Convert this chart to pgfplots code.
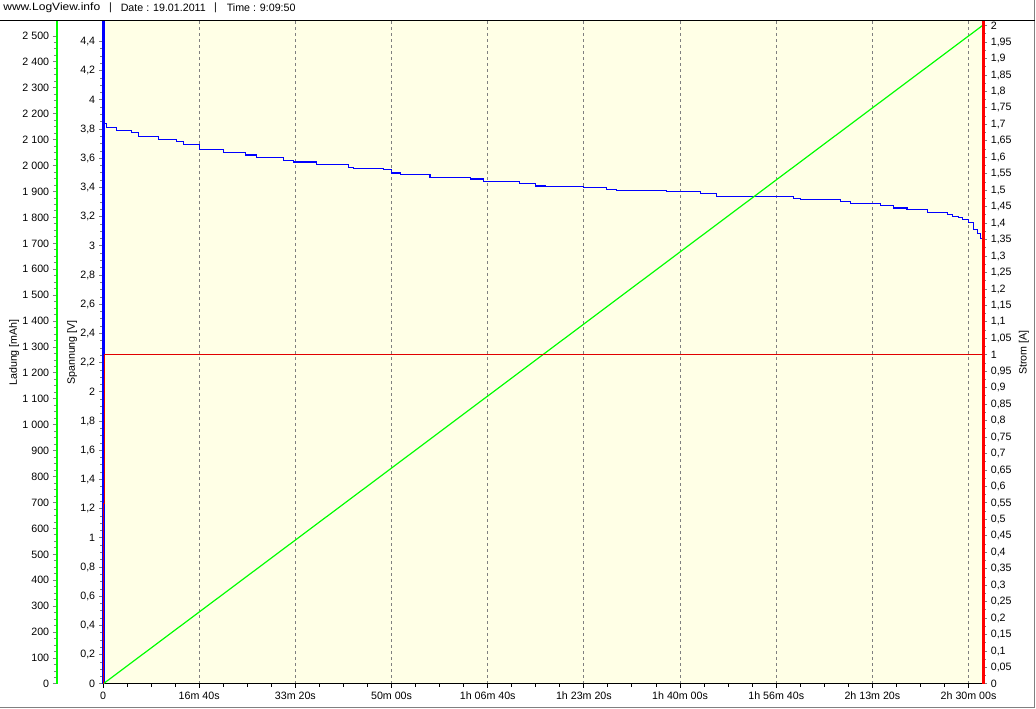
\documentclass[border=0pt]{standalone}
\usepackage{fontspec}
\setmainfont{Liberation Sans}
\usepackage{pgfplots}
\pgfplotsset{compat=1.18}

\definecolor{plotbg}{RGB}{255,255,230}
\definecolor{tickgray}{RGB}{128,128,128}
\definecolor{lvgreen}{RGB}{0,255,0}
\definecolor{lvblue}{RGB}{0,0,255}
\definecolor{lvred}{RGB}{255,0,0}
\definecolor{lvdarkred}{RGB}{225,0,0}

% shared geometry: plot area 880 x 663 px, 1 px = 0.75pt
\pgfplotsset{
  lvbase/.style={
    at={(77.25pt,18.75pt)}, anchor=south west,
    scale only axis, width=660pt, height=497.25pt,
    xmin=0, xmax=9150,
    tick align=outside,
    major tick length=3pt, minor tick length=2.25pt,
    ytick style={tickgray, line width=0.75pt},
    /pgf/number format/fixed,
    /pgf/number format/precision=2,
    /pgf/number format/use comma,
    /pgf/number format/1000 sep={~},
    /pgf/number format/assume math mode=true,
  }
}

\begin{document}
\fontsize{8}{9.6}\selectfont
\begin{tikzpicture}
\begin{scope}[x=0.75pt,y=0.75pt]
  \path[use as bounding box] (0,0) rectangle (1036,709);
  \draw[gray, line width=0.75pt] (0,1.5) -- (1034.5,1.5) -- (1034.5,709);
  \draw[black, line width=0.75pt] (0,688.5) -- (1034.5,688.5);
  \node[inner sep=0, anchor=west, xscale=1.13, transform shape] at (3,701) {www.LogView.info};
  \node[inner sep=0] at (110.5,701) {|};
  \node[inner sep=0, anchor=west] at (120.5,701) {Date : 19.01.2011};
  \node[inner sep=0] at (215.5,701) {|};
  \node[inner sep=0, anchor=west] at (226.5,701) {Time : 9:09:50};
\end{scope}

% Spannung [V] (blue) with time axis
\begin{axis}[lvbase,
  ymin=0, ymax=4.541,
  axis background/.style={fill=plotbg},
  axis x line*=bottom, axis y line*=left,
  x axis line style={black, line width=0.75pt, -},
  y axis line style={lvblue, line width=2.25pt, -},
  xtick style={black, line width=0.75pt},
  xtick={0,1000,...,9000},
  xticklabels={0,16m 40s,33m 20s,50m 00s,1h 06m 40s,1h 23m 20s,1h 40m 00s,1h 56m 40s,2h 13m 20s,2h 30m 00s},
  minor x tick num=3,
  xmajorgrids,
  grid style={tickgray, line width=0.75pt, dash pattern=on 2.25pt off 2.25pt},
  ytick={0,0.2,...,4.41},
  minor y tick num=3,
  ylabel={Spannung [V]},
  ylabel shift={-3pt},
]
\addplot[lvblue, line width=0.8pt, const plot] coordinates {
(0,4.20) (3,4.03) (20,3.84) (38,3.813) (142,3.790) (298,3.776) (367,3.753)
(576,3.728) (766,3.717) (835,3.692) (1002,3.664) (1165,3.660) (1252,3.639)
(1477,3.623) (1599,3.605) (1880,3.584) (1980,3.575) (2220,3.555) (2552,3.539)
(2604,3.530) (2916,3.521) (3000,3.500) (3089,3.491) (3400,3.471) (3817,3.459)
(3960,3.440) (4330,3.427) (4500,3.411) (4600,3.406) (4996,3.399) (5239,3.390)
(5343,3.379) (5863,3.370) (6210,3.361) (6383,3.342) (6972,3.338) (7180,3.327)
(7250,3.317) (7666,3.303) (7770,3.288) (8082,3.279) (8220,3.260) (8360,3.251)
(8568,3.231) (8776,3.217) (8828,3.205) (8897,3.195) (8932,3.183) (9000,3.160)
(9053,3.114) (9088,3.087) (9122,3.053) (9150,3.014)
};
\end{axis}

% Ladung [mAh] (green)
\begin{axis}[lvbase,
  ymin=0, ymax=2558,
  hide x axis,
  axis y line*=left, axis y line shift=34.5pt,
  y axis line style={lvgreen, line width=1.5pt, -},
  ytick={0,100,...,2500},
  minor y tick num=3,
  ylabel={Ladung [mAh]},
  ylabel shift={-3pt},
]
\addplot[lvgreen, line width=0.9pt] coordinates {(0,0) (3000,833) (6000,1667) (9150,2542)};
\end{axis}

% Strom [A] (red)
\begin{axis}[lvbase,
  ymin=0, ymax=2.0143,
  hide x axis,
  axis y line*=right,
  y axis line style={lvred, line width=2.25pt, -},
  ytick={0,0.05,...,2.001},
  minor y tick num=1,
  ylabel={Strom [A]},
]
\addplot[lvdarkred, line width=0.75pt] coordinates {(3,0) (3,0.547) (15,0.547) (15,1) (9150,1)};
\end{axis}
\end{tikzpicture}
\end{document}
